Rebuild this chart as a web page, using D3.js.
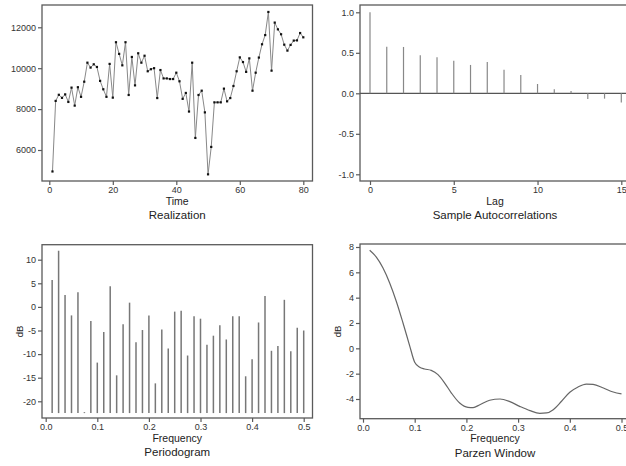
<!DOCTYPE html>
<html>
<head>
<meta charset="utf-8">
<script src="https://cdn.jsdelivr.net/npm/d3@7"></script>
<style>
  body { margin: 0; background: #fff; }
  svg text { font-family: "Liberation Sans", Arial, sans-serif; fill: #222; }
</style>
</head>
<body>
<svg id="chart" width="626" height="466"></svg>
<script>
// realization, t = 1..80
var realization = [
  4950, 8400, 8700, 8550, 8720, 8350, 9050, 8170, 9070, 8600,
  9340, 10270, 10030, 10190, 10060, 9380, 8970, 8600, 10210, 8560,
  11270, 10700, 10140, 11270, 8690, 10550, 9160, 10730, 10270, 10610,
  9850, 9950, 10000, 8540, 9910, 9500, 9500, 9470, 9470, 9780,
  9360, 8500, 8790, 7880, 10270, 6590, 8690, 8900, 7840, 4810,
  6150, 8330, 8330, 8330, 9000, 8380, 8540, 9130, 9850, 10530,
  10300, 9820, 10480, 8900, 9780, 10520, 11170, 11620, 12750, 9880,
  12230, 11900, 11660, 11150, 10860, 11140, 11350, 11360, 11720, 11510
]
// sample autocorrelations, lag 0..15
var acf = [1.0, 0.576, 0.572, 0.469, 0.444, 0.403, 0.35, 0.387, 0.292, 0.226, 0.115, 0.049, 0.029, -0.07, -0.066, -0.115]
// periodogram in dB at frequencies j/80, j = 1..40
var periodogram = [
  5.7, 11.9, 2.5, -1.8, 3.1, -22.3, -3.0, -11.8, -5.3, 4.4,
  -14.5, -3.7, 0.9, -7.5, -4.9, -1.8, -16.2, -4.8, -8.8, -1.0,
  -0.8, -10.3, -2.0, -2.5, -8.0, -6.1, -3.9, -6.9, -2.0, -2.0,
  -14.7, -11.1, -3.3, 2.3, -9.3, -8.3, 1.5, -9.4, -4.4, -5.0
]
var periodogramBase = -22.5
// parzen window estimate [frequency, dB]
var parzenFreq = [0.0129, 0.0258, 0.0387, 0.0516, 0.0645, 0.0774, 0.0903, 0.1, 0.1097, 0.119, 0.132, 0.145, 0.158, 0.171, 0.187, 0.203, 0.213, 0.226, 0.245, 0.265, 0.284, 0.303, 0.323, 0.342, 0.355, 0.368, 0.384, 0.4, 0.416, 0.432, 0.445, 0.465, 0.484, 0.5]
var parzenDb = [7.74, 7.2, 6.34, 5.16, 3.7, 2.0, 0.2, -1.1, -1.5, -1.63, -1.74, -2.08, -2.74, -3.53, -4.32, -4.66, -4.68, -4.45, -4.1, -4.0, -4.21, -4.58, -4.92, -5.13, -5.1, -4.84, -4.18, -3.47, -3.05, -2.82, -2.84, -3.13, -3.45, -3.6]

var timeTicks = [0, 20, 40, 60, 80]
var realTicks = [6000, 8000, 10000, 12000]
var lagTicks = [0, 5, 10, 15]
var acfTicks = [-1.0, -0.5, 0.0, 0.5, 1.0]
var freqTicks = [0.0, 0.1, 0.2, 0.3, 0.4, 0.5]
var pgramTicks = [-20, -15, -10, -5, 0, 5, 10]
var parzenTicks = [-4, -2, 0, 2, 4, 6, 8]

var svg = d3.select('#chart')
var frameColor = '#5a5a5a'

function panel(box, x, y, xt, yt, xfmt, yfmt, xlab, title, ylab) {
  var g = svg.append('g')
  g.append('g')
    .attr('transform', 'translate(0,' + box.bottom + ')')
    .call(d3.axisBottom(x).tickValues(xt).tickFormat(xfmt).tickSize(4).tickPadding(2))
  g.append('g')
    .attr('transform', 'translate(' + box.left + ',0)')
    .call(d3.axisLeft(y).tickValues(yt).tickFormat(yfmt).tickSize(4).tickPadding(2))
  g.selectAll('.domain').remove()
  g.selectAll('.tick line').attr('stroke', frameColor).attr('stroke-width', 1.2)
  g.selectAll('.tick text').style('font-size', '9px').style('fill', '#333')
  g.append('rect')
    .attr('x', box.left).attr('y', box.top)
    .attr('width', box.right - box.left).attr('height', box.bottom - box.top)
    .attr('fill', 'none').attr('stroke', frameColor).attr('stroke-width', 1.3)
  var cx = (box.left + box.right) / 2
  g.append('text').attr('x', cx).attr('y', box.bottom + 23.5)
    .attr('text-anchor', 'middle').style('font-size', '10.5px').text(xlab)
  g.append('text').attr('x', cx).attr('y', box.bottom + 38)
    .attr('text-anchor', 'middle').style('font-size', '11.5px').text(title)
  if (ylab) {
    var cy = (box.top + box.bottom) / 2
    g.append('text').attr('transform', 'translate(' + (box.left - 19) + ',' + cy + ') rotate(-90)')
      .attr('text-anchor', 'middle').style('font-size', '9.5px').text(ylab)
  }
  return g
}

var fix1 = function(d){ return d.toFixed(1) }
var plain = function(d){ return String(d) }

// ---- Realization
var b1 = {left: 42, right: 312.5, top: 5, bottom: 181}
var x1 = d3.scaleLinear().domain([0, 80]).range([49.3, 303.3])
var y1 = d3.scaleLinear().domain([6000, 12000]).range([150, 27.3])
var g1 = panel(b1, x1, y1, timeTicks, realTicks, plain, plain, 'Time', 'Realization')
g1.append('path').datum(realization)
  .attr('fill', 'none').attr('stroke', '#888').attr('stroke-width', 1)
  .attr('d', d3.line().x(function(d,i){ return x1(i+1) }).y(function(d){ return y1(d) }))
g1.selectAll('.pt').data(realization).enter().append('rect')
  .attr('x', function(d,i){ return x1(i+1) - 1.1 })
  .attr('y', function(d){ return y1(d) - 1.1 })
  .attr('width', 2.2).attr('height', 2.2).attr('fill', '#111')

// ---- Sample autocorrelations
var b2 = {left: 360, right: 630, top: 5, bottom: 181}
var x2 = d3.scaleLinear().domain([0, 15]).range([370, 621.3])
var y2 = d3.scaleLinear().domain([-1, 1]).range([174.3, 12.3])
var g2 = panel(b2, x2, y2, lagTicks, acfTicks, plain, fix1, 'Lag', 'Sample Autocorrelations')
g2.append('line').attr('x1', b2.left).attr('x2', b2.right)
  .attr('y1', y2(0)).attr('y2', y2(0)).attr('stroke', '#555').attr('stroke-width', 1.2)
g2.selectAll('.spike').data(acf).enter().append('line')
  .attr('x1', function(d,i){ return x2(i) }).attr('x2', function(d,i){ return x2(i) })
  .attr('y1', y2(0)).attr('y2', function(d){ return y2(d) })
  .attr('stroke', '#888').attr('stroke-width', 1.2)

// ---- Periodogram
var b3 = {left: 42, right: 312.5, top: 244.7, bottom: 418}
var x3 = d3.scaleLinear().domain([0, 0.5]).range([45.7, 303.7])
var y3 = d3.scaleLinear().domain([-20, 10]).range([401.3, 259.7])
var g3 = panel(b3, x3, y3, freqTicks, pgramTicks, fix1, plain, 'Frequency', 'Periodogram', 'dB')
g3.selectAll('.bar').data(periodogram).enter().append('line')
  .attr('x1', function(d,i){ return x3((i+1)/80) }).attr('x2', function(d,i){ return x3((i+1)/80) })
  .attr('y1', y3(periodogramBase)).attr('y2', function(d){ return y3(d) })
  .attr('stroke', '#777').attr('stroke-width', 1.5)

// ---- Parzen window
var b4 = {left: 360, right: 630, top: 244, bottom: 418.7}
var x4 = d3.scaleLinear().domain([0, 0.5]).range([363, 621.5])
var y4 = d3.scaleLinear().domain([-4, 8]).range([399, 247])
var g4 = panel(b4, x4, y4, freqTicks, parzenTicks, fix1, plain, 'Frequency', 'Parzen Window', 'dB')
g4.append('path').datum(d3.zip(parzenFreq, parzenDb))
  .attr('fill', 'none').attr('stroke', '#666').attr('stroke-width', 1.2)
  .attr('d', d3.line().curve(d3.curveMonotoneX).x(function(d){ return x4(d[0]) }).y(function(d){ return y4(d[1]) }))
</script>
</body>
</html>
